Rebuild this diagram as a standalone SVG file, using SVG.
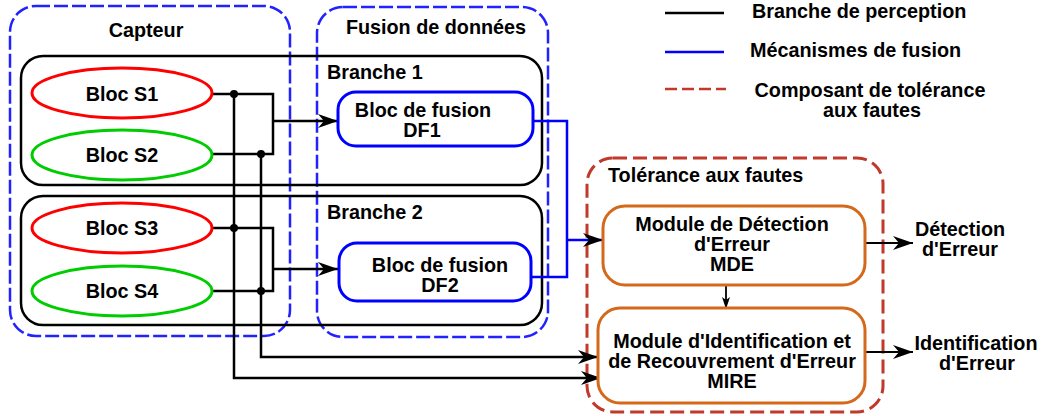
<svg xmlns="http://www.w3.org/2000/svg" width="1043" height="416" viewBox="0 0 1043 416">
<defs>
<marker id="ah" markerUnits="userSpaceOnUse" markerWidth="22" markerHeight="14" refX="20" refY="7" orient="auto">
<path d="M0,0 L20,7 L0,14 L6,7 z" fill="#000"/>
</marker>
<style>
text{font-family:"Liberation Sans",Arial,sans-serif;font-weight:bold;font-size:19.8px;fill:#000}
.c{text-anchor:middle}
.grp{fill:none;stroke:#2222ff;stroke-width:2.5;stroke-dasharray:14 4}
.ft{fill:none;stroke:#c0392b;stroke-width:3;stroke-dasharray:14 6}
.br{fill:none;stroke:#000;stroke-width:2.5}
.df{fill:#fff;stroke:#0000ff;stroke-width:3}
.md{fill:#fff;stroke:#d4691c;stroke-width:3}
.k{fill:none;stroke:#000;stroke-width:2.5}
.b{fill:none;stroke:#0000ff;stroke-width:2.5}
.dot{fill:#000}
</style>
</defs>
<rect width="1043" height="416" fill="#fff"/>

<g id="legend">
<line x1="665" y1="13" x2="724" y2="13" stroke="#000" stroke-width="2.5"/>
<text x="752" y="18">Branche de perception</text>
<line x1="665" y1="52" x2="724" y2="52" stroke="#0000ff" stroke-width="2.5"/>
<text x="750" y="57">Mécanismes de fusion</text>
<line x1="665" y1="89" x2="726" y2="89" stroke="#c0392b" stroke-width="2.5" stroke-dasharray="12 5"/>
<text class="c" x="870" y="97">Composant de tolérance</text>
<text class="c" x="872" y="117">aux fautes</text>
</g>

<g id="capteur">
<rect class="grp" x="10" y="6" width="280" height="330" rx="26"/>
<text class="c" x="146" y="37">Capteur</text>
</g>
<g id="fusion">
<rect class="grp" x="317" y="7" width="231" height="330" rx="26"/>
<text class="c" x="436" y="34">Fusion de données</text>
</g>

<g id="branche1">
<rect class="br" x="21" y="56" width="521" height="129" rx="22"/>
<text x="327" y="79">Branche 1</text>
</g>
<g id="branche2">
<rect class="br" x="21" y="196" width="521" height="129" rx="22"/>
<text x="327" y="219">Branche 2</text>
</g>

<g id="tolerance">
<rect class="ft" x="587" y="158" width="296" height="254" rx="26"/>
<text x="608" y="182">Tolérance aux fautes</text>
</g>

<g id="connectors">
<polyline class="k" points="212,94 273,94 273,154 212,154"/>
<line class="k" x1="273" y1="121" x2="338" y2="121" marker-end="url(#ah)"/>
<polyline class="k" points="212,228 273,228 273,291 212,291"/>
<line class="k" x1="273" y1="269" x2="338" y2="269" marker-end="url(#ah)"/>
<polyline class="k" points="234,94 234,378 601,378" marker-end="url(#ah)"/>
<polyline class="k" points="261,154 261,357 598,357" marker-end="url(#ah)"/>
<circle class="dot" cx="234" cy="94" r="4"/>
<circle class="dot" cx="261" cy="154" r="4"/>
<circle class="dot" cx="234" cy="228" r="4"/>
<circle class="dot" cx="261" cy="291" r="4"/>
<polyline class="b" points="533,121 567,121 567,277 531,277"/>
<line class="b" x1="567" y1="240" x2="603" y2="240" marker-end="url(#ah)"/>
<line x1="726" y1="285" x2="726" y2="308" stroke="#000" stroke-width="1.8"/>
<path d="M722,297 L726,309 L730,297 L726,300 z" fill="#000"/>
<line x1="866" y1="243" x2="913" y2="243" stroke="#000" stroke-width="2" marker-end="url(#ah)"/>
<line x1="865" y1="352" x2="913" y2="352" stroke="#000" stroke-width="2" marker-end="url(#ah)"/>
</g>

<g id="s1">
<ellipse cx="122" cy="93" rx="90" ry="25" fill="#fff" stroke="#ff0000" stroke-width="3"/>
<text class="c" x="122" y="101">Bloc S1</text>
</g>
<g id="s2">
<ellipse cx="122" cy="155" rx="90" ry="25" fill="#fff" stroke="#00cc00" stroke-width="3"/>
<text class="c" x="122" y="162">Bloc S2</text>
</g>
<g id="s3">
<ellipse cx="122" cy="228" rx="90" ry="25" fill="#fff" stroke="#ff0000" stroke-width="3"/>
<text class="c" x="122" y="235">Bloc S3</text>
</g>
<g id="s4">
<ellipse cx="122" cy="291" rx="90" ry="25" fill="#fff" stroke="#00cc00" stroke-width="3"/>
<text class="c" x="122" y="298">Bloc S4</text>
</g>

<g id="df1">
<rect class="df" x="338" y="92" width="195" height="54" rx="18"/>
<text class="c" x="423" y="117">Bloc de fusion</text>
<text class="c" x="422" y="137">DF1</text>
</g>
<g id="df2">
<rect class="df" x="339" y="243" width="192" height="58" rx="18"/>
<text class="c" x="440" y="272">Bloc de fusion</text>
<text class="c" x="440" y="292">DF2</text>
</g>

<g id="mde">
<rect class="md" x="603" y="206" width="262" height="79" rx="22"/>
<text class="c" x="732" y="231">Module de Détection</text>
<text class="c" x="732" y="251">d'Erreur</text>
<text class="c" x="732" y="271">MDE</text>
</g>
<g id="mire">
<rect class="md" x="598" y="308" width="267" height="95" rx="22"/>
<text class="c" x="732" y="348">Module d'Identification et</text>
<text class="c" x="732" y="368">de Recouvrement d'Erreur</text>
<text class="c" x="732" y="388">MIRE</text>
</g>

<g id="out-detection">
<text class="c" x="960" y="236">Détection</text>
<text class="c" x="960" y="256">d'Erreur</text>
</g>
<g id="out-identification">
<text class="c" x="976" y="350">Identification</text>
<text class="c" x="977" y="370">d'Erreur</text>
</g>
</svg>
